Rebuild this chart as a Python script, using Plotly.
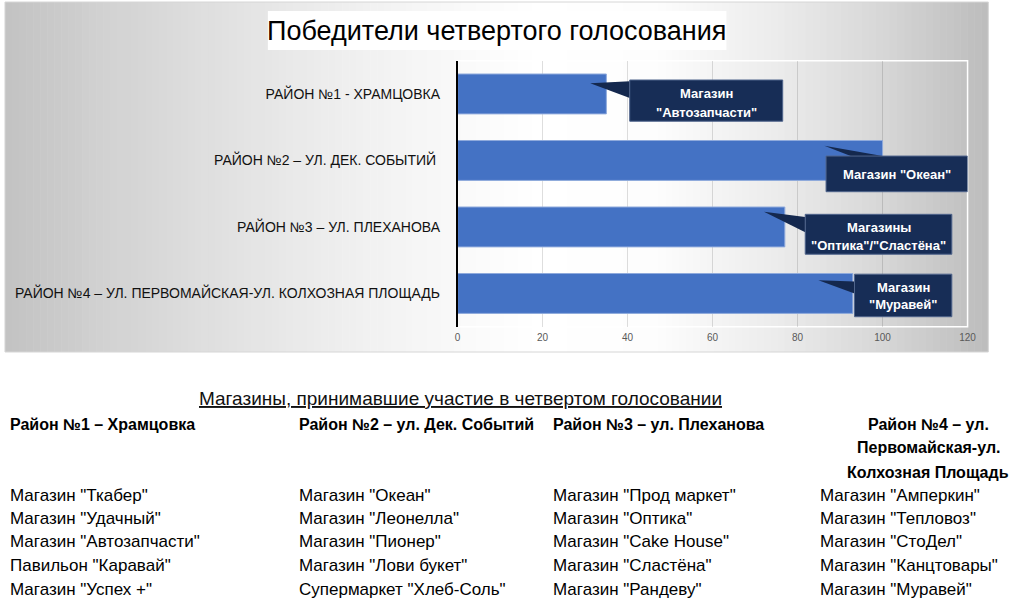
import plotly.graph_objects as go

# ---------------- data ----------------
districts = [
    "РАЙОН №1 - ХРАМЦОВКА",
    "РАЙОН №2 – УЛ. ДЕК. СОБЫТИЙ ",
    "РАЙОН №3 – УЛ. ПЛЕХАНОВА",
    "РАЙОН №4 – УЛ. ПЕРВОМАЙСКАЯ-УЛ. КОЛХОЗНАЯ ПЛОЩАДЬ",
]
votes = [35, 100, 77, 93]
winners = [
    ["Магазин", '"Автозапчасти"'],
    ['Магазин "Океан"'],
    ["Магазины", '"Оптика"/"Сластёна"'],
    ["Магазин", '"Муравей"'],
]
x_ticks = [0, 20, 40, 60, 80, 100, 120]

chart_title = "Победители четвертого голосования"
list_title = "Магазины, принимавшие участие в четвертом голосовании"
col_headers = [
    ["Район №1 – Храмцовка"],
    ["Район №2 – ул. Дек. Событий"],
    ["Район №3 – ул. Плеханова"],
    ["Район №4 – ул.", "Первомайская-ул.", "Колхозная Площадь"],
]
stores_1 = ['Магазин "Ткабер"', 'Магазин "Удачный"', 'Магазин "Автозапчасти"',
            'Павильон "Каравай"', 'Магазин "Успех +"']
stores_2 = ['Магазин "Океан"', 'Магазин "Леонелла"', 'Магазин "Пионер"',
            'Магазин "Лови букет"', 'Супермаркет "Хлеб-Соль"']
stores_3 = ['Магазин "Прод маркет"', 'Магазин "Оптика"', 'Магазин "Cake House"',
            'Магазин "Сластёна"', 'Магазин "Рандеву"']
stores_4 = ['Магазин "Амперкин"', 'Магазин "Тепловоз"', 'Магазин "СтоДел"',
            'Магазин "Канцтовары"', 'Магазин "Муравей"']

# ---------------- layout constants ----------------
W, H = 1024, 612
FONT = "Liberation Sans"

def px(x):
    return x / W

def py(y):
    return 1 - y / H

cats = list(range(len(districts)))

fig = go.Figure()
fig.add_trace(go.Bar(
    x=votes, y=cats, orientation="h",
    marker=dict(color="#4472c4", line=dict(color="#8faadc", width=1)),
    width=0.6, hoverinfo="x+y",
))

shapes = []
# horizontal gradient background of the chart block
stops = [(2, 194), (100, 209), (200, 222), (300, 234), (420, 246), (540, 255),
         (660, 253), (780, 236), (880, 217), (997, 188)]
N = 140
x_left, x_right = 2, 997
for i in range(N):
    xa = x_left + (x_right - x_left) * i / N
    xb = x_left + (x_right - x_left) * (i + 1) / N
    xm = (xa + xb) / 2
    for (s0, g0), (s1, g1) in zip(stops[:-1], stops[1:]):
        if s0 <= xm <= s1:
            g = g0 + (g1 - g0) * (xm - s0) / (s1 - s0)
            break
    g = int(round(g))
    shapes.append(dict(type="rect", xref="paper", yref="paper",
                       x0=px(xa), x1=px(min(xb + 0.6, x_right)), y0=py(352), y1=py(2),
                       fillcolor=f"rgb({g},{g},{g})", line=dict(width=0),
                       layer="below"))
shapes.append(dict(type="rect", xref="paper", yref="paper",
                   x0=px(2), x1=px(997), y0=py(352), y1=py(2),
                   line=dict(color="#d6d6d6", width=1), layer="below"))
# title white box
shapes.append(dict(type="rect", xref="paper", yref="paper",
                   x0=px(268), x1=px(732), y0=py(50), y1=py(11),
                   fillcolor="white", line=dict(width=0), layer="below"))
# plot area white border
shapes.append(dict(type="rect", xref="x domain", yref="y domain",
                   x0=0, x1=1, y0=0, y1=1,
                   line=dict(color="white", width=1.5), layer="below"))

# callouts: box (x0,x1,dy0,dy1), tip (x,dy), wedge base points, text line positions
callouts = [
    dict(box=(40.5, 76.5, -0.21, 0.41), tip=(31.2, -0.16),
         base=[(40.5, -0.19), (40.5, 0.06)], lines=[0.32, 0.80]),
    dict(box=(86.7, 120.0, -0.066, 0.47), tip=(86.3, -0.22),
         base=[(92.5, -0.066), (100.0, -0.066)], lines=[0.51]),
    dict(box=(81.8, 116.3, -0.19, 0.41), tip=(72.1, -0.23),
         base=[(81.8, -0.15), (81.8, 0.08)], lines=[0.33, 0.77]),
    dict(box=(93.4, 116.3, -0.29, 0.35), tip=(84.9, -0.20),
         base=[(93.4, -0.18), (93.4, 0.0)], lines=[0.32, 0.71]),
]

annotations = []
for c, txt, cy in zip(callouts, winners, cats):
    bx0, bx1, by0, by1 = c["box"]
    (ax, ay) = c["tip"]
    (p1x, p1y), (p2x, p2y) = c["base"]
    shapes.append(dict(type="path", xref="x", yref="y",
                       path=f"M {ax},{cy + ay} L {p1x},{cy + p1y} L {p2x},{cy + p2y} Z",
                       fillcolor="#14284e", line=dict(width=0)))
    shapes.append(dict(type="rect", xref="x", yref="y",
                       x0=bx0, x1=bx1, y0=cy + by0, y1=cy + by1,
                       fillcolor="#172d56", line=dict(color="#50658c", width=1)))
    for line_txt, frac in zip(txt, c["lines"]):
        annotations.append(dict(
            xref="x", yref="y", x=(bx0 + bx1) / 2,
            y=cy + by0 + (by1 - by0) * frac,
            text=f"<b>{line_txt}</b>", showarrow=False,
            font=dict(family=FONT, size=13, color="white"),
            xanchor="center", yanchor="middle"))

# chart title
annotations.append(dict(xref="paper", yref="paper", x=px(500), y=py(31),
                        text=chart_title, showarrow=False,
                        font=dict(family=FONT, size=27, color="black"),
                        xanchor="center", yanchor="middle"))

# lower text block
annotations.append(dict(xref="paper", yref="paper", x=px(463), y=py(398),
                        text=f"<u>{list_title}</u>", showarrow=False,
                        font=dict(family=FONT, size=19, color="#111"),
                        xanchor="center", yanchor="middle"))
col_x = [5, 297, 554, 825]
header_y = [424, 448, 472]
for j, hdr in enumerate(col_headers):
    for k, line_txt in enumerate(hdr):
        if len(hdr) > 1:
            annotations.append(dict(xref="paper", yref="paper", x=px(936), y=py(header_y[k]),
                                    text=f"<b>{line_txt}</b>", showarrow=False,
                                    font=dict(family=FONT, size=16, color="black"),
                                    xanchor="center", yanchor="middle"))
        else:
            annotations.append(dict(xref="paper", yref="paper", x=px(col_x[j]), y=py(header_y[k]),
                                    text=f"<b>{line_txt}</b>", showarrow=False,
                                    font=dict(family=FONT, size=16, color="black"),
                                    xanchor="left", yanchor="middle"))
row_y = [495, 518, 541, 565, 589]
for j, col in enumerate([stores_1, stores_2, stores_3, stores_4]):
    for k, name in enumerate(col):
        annotations.append(dict(xref="paper", yref="paper", x=px(col_x[j]), y=py(row_y[k]),
                                text=name, showarrow=False,
                                font=dict(family=FONT, size=17, color="black"),
                                xanchor="left", yanchor="middle"))

fig.update_layout(
    width=W, height=H,
    margin=dict(l=0, r=0, t=0, b=0),
    paper_bgcolor="white", plot_bgcolor="rgba(0,0,0,0)",
    showlegend=False,
    shapes=shapes, annotations=annotations,
    xaxis=dict(domain=[px(460), px(976)], range=[0, 120], tickvals=x_ticks,
               showgrid=True, gridcolor="rgba(0,0,0,0.13)", gridwidth=1,
               zeroline=False, showline=False, ticks="",
               tickfont=dict(family=FONT, size=10, color="#595959"),
               ticklabelstandoff=3, fixedrange=True),
    yaxis=dict(domain=[py(326.7), py(60.7)], range=[3.5, -0.5],
               tickvals=cats, ticktext=districts,
               showgrid=False, zeroline=False, showline=True,
               linecolor="black", linewidth=1.5, ticks="",
               tickfont=dict(family=FONT, size=14, color="#111"),
               ticklabelstandoff=13, fixedrange=True),
)

fig.write_html("out.html", config={"displayModeBar": False},
               post_script="document.body.style.margin='0';document.body.style.overflow='hidden';")
